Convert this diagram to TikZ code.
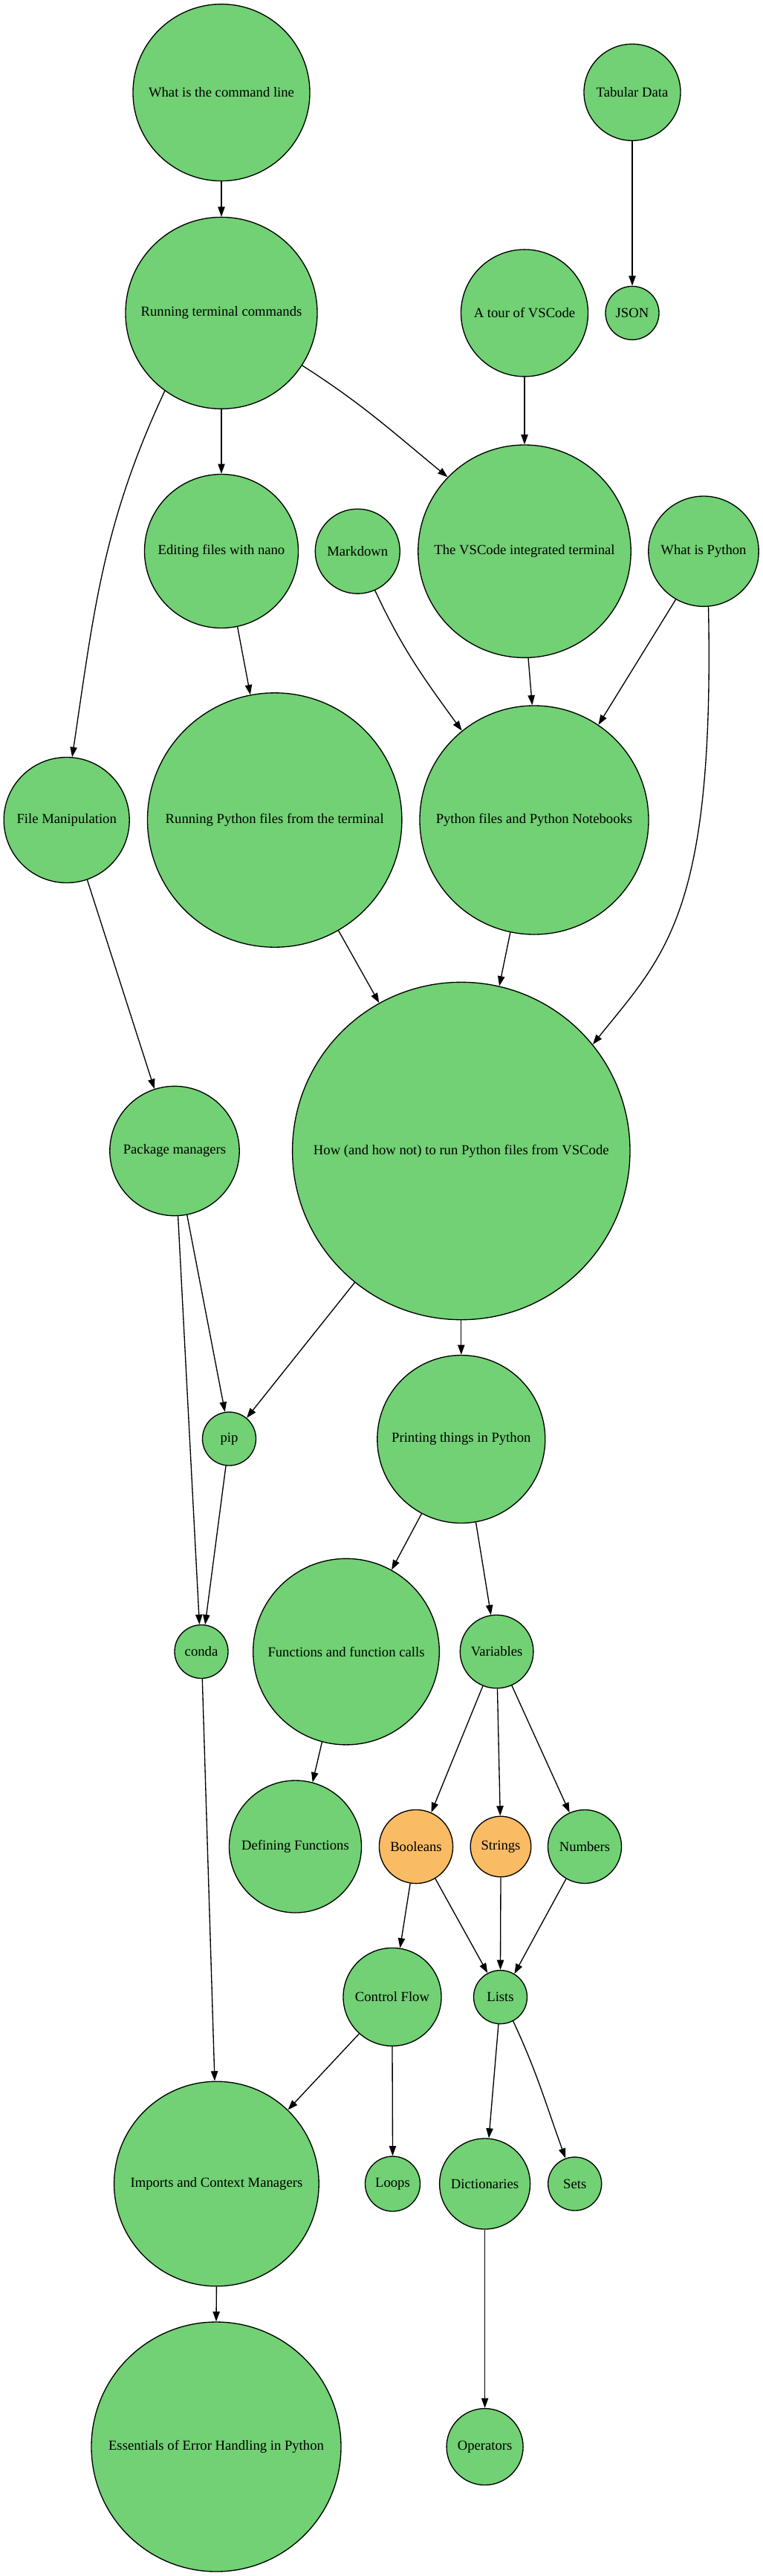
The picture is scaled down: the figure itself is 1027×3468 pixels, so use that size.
\documentclass[tikz,border=0pt]{standalone}
\usepackage{fontspec}
\setmainfont{Liberation Serif}
\usetikzlibrary{arrows.meta}
\definecolor{ggreen}{RGB}{113,209,116}
\definecolor{gorange}{RGB}{249,187,99}
\begin{document}
\begin{tikzpicture}[x=0.75pt,y=-0.75pt,
  topic/.style={circle,draw=black,line width=1pt,fill=ggreen,inner sep=0pt,minimum size=#1,font=\fontsize{14}{16}\selectfont},
  hot/.style={topic=#1,fill=gorange},
  link/.style={draw=black,line width=1pt,-{Triangle[length=10pt,width=7pt]}}]
\useasboundingbox (0,0) rectangle (1027,3468);
% nodes
\node[topic=178.5pt] (cmd) at (298,124.6) {What is the command line};
\node[topic=97.5pt] (tab) at (851,124.3) {Tabular Data};
\node[topic=193.5pt] (run) at (298,421.4) {Running terminal commands};
\node[topic=128.25pt] (tour) at (706,421.4) {A tour of VSCode};
\node[topic=54pt] (json) at (851,421.4) {JSON};
\node[topic=155.25pt] (nano) at (298,742) {Editing files with nano};
\node[topic=85.5pt] (md) at (481.3,742.2) {Markdown};
\node[topic=214.8pt] (vst) at (706,742.2) {The VSCode integrated terminal};
\node[topic=111.3pt] (wip) at (947,742.2) {What is Python};
\node[topic=126.75pt] (fm) at (89.7,1104) {File Manipulation};
\node[topic=256.8pt] (rpf) at (369.7,1104) {Running Python files from the terminal};
\node[topic=231pt] (pfn) at (719,1104) {Python files and Python Notebooks};
\node[topic=130.8pt] (pm) at (235,1549.5) {Package managers};
\node[topic=340.8pt] (how) at (620.8,1549.5) {How (and how not) to run Python files from VSCode};
\node[topic=54pt] (pip) at (308.5,1937) {pip};
\node[topic=169.5pt] (print) at (620.8,1937.5) {Printing things in Python};
\node[topic=54pt] (conda) at (271,2223.5) {conda};
\node[topic=187.95pt] (func) at (466,2223.6) {Functions and function calls};
\node[topic=73.95pt] (var) at (668.6,2223.5) {Variables};
\node[topic=133.5pt] (def) at (397.5,2486) {Defining Functions};
\node[hot=74.4pt] (bool) at (560,2486) {Booleans};
\node[hot=61.2pt] (str) at (674,2486) {Strings};
\node[topic=74.25pt] (num) at (787,2486) {Numbers};
\node[topic=99pt] (cf) at (528,2688.4) {Control Flow};
\node[topic=54pt] (lists) at (673.5,2688.6) {Lists};
\node[topic=206.7pt] (imp) at (291.4,2940) {Imports and Context Managers};
\node[topic=55.5pt] (loops) at (528.5,2940) {Loops};
\node[topic=91.5pt] (dict) at (652.6,2940) {Dictionaries};
\node[topic=54pt] (sets) at (773.7,2940) {Sets};
\node[topic=252pt] (err) at (291,3294) {Essentials of Error Handling in Python};
\node[topic=77.25pt] (ops) at (652.6,3294) {Operators};
% connectors
\path[link] (cmd.-90) -- (run.90);
\path[link] (tab.-90) -- (json.90);
\path[link] (run.-90) -- (nano.90);
\path[link] (run.-33.5) to[out=-32.6,in=140.6] (vst.136.7);
\path[link] (run.-126.8) to[out=-115,in=81.5] (fm.85.8);
\path[link] (tour.-90) -- (vst.90);
\path[link] (nano.-78.4) -- (rpf.101.7);
\path[link] (md.-66.7) to[out=-65,in=126] (pfn.129.2);
\path[link] (vst.-88) -- (pfn.91.9);
\path[link] (wip.-120.8) -- (pfn.56.7);
\path[link] (wip.-85.4) .. controls (962,1230) and (895,1285) .. (how.39.9);
\path[link] (rpf.-60.3) -- (how.119.4);
\path[link] (pfn.-102.4) -- (how.77.3);
\path[link] (fm.-71.5) -- (pm.108.2);
\path[link] (pm.-79.3) -- (pip.99.3);
\path[link] (pm.-87) -- (conda.94);
\path[link] (how.-129) -- (pip.50.2);
\path[link] (how.-90) -- (print.90);
\path[link] (pip.-97) -- (conda.82.7);
\path[link] (print.-118.4) -- (func.61.1);
\path[link] (print.-80.3) -- (var.99.9);
\path[link] (conda.-88) -- (imp.91.9);
\path[link] (func.-105) -- (def.75.3);
\path[link] (var.-112.2) -- (bool.66.5);
\path[link] (var.-89.5) -- (str.91.4);
\path[link] (var.-66.3) -- (num.114.5);
\path[link] (bool.-99.1) -- (cf.81.4);
\path[link] (bool.-59.9) -- (lists.118.6);
\path[link] (str.-90) -- (lists.90);
\path[link] (num.-120) -- (lists.59.9);
\path[link] (cf.-132.5) -- (imp.46.3);
\path[link] (cf.-90) -- (loops.90);
\path[link] (lists.-94) -- (dict.85);
\path[link] (lists.-62.9) to[out=-65,in=110] (sets.110.5);
\path[link] (dict.-90) -- (ops.90);
\path[link] (imp.-90) -- (err.90);
\end{tikzpicture}
\end{document}
